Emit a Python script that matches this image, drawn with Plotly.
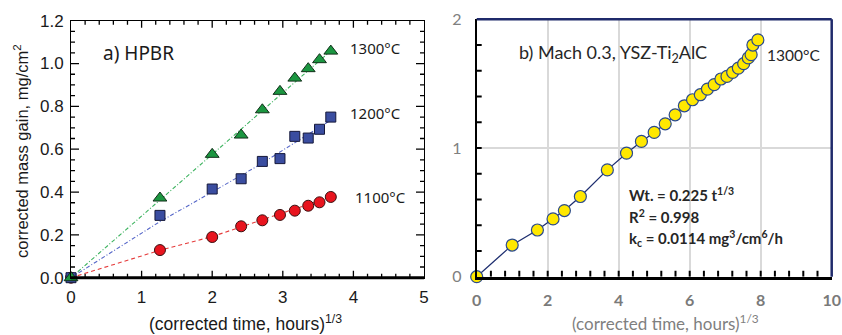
import plotly.graph_objects as go

# ---------------- data: panel a (HPBR) ----------------
a_x = [0, 1.26, 2.00, 2.41, 2.71, 2.96, 3.17, 3.36, 3.52, 3.68]
a_1300 = [0, 0.372, 0.576, 0.666, 0.784, 0.870, 0.932, 0.976, 1.018, 1.058]
a_1200 = [0, 0.291, 0.414, 0.462, 0.543, 0.556, 0.660, 0.652, 0.693, 0.750]
a_1100 = [0, 0.129, 0.190, 0.240, 0.268, 0.293, 0.313, 0.336, 0.352, 0.377]

fit_x_1300 = [0, 3.70]
fit_y_1300 = [0, 1.065]
fit_x_1200 = [0, 1.26, 2.00, 2.71, 3.70]
fit_y_1200 = [0, 0.262, 0.400, 0.535, 0.740]
fit_x_1100 = [0, 1.26, 2.00, 3.70]
fit_y_1100 = [0, 0.128, 0.192, 0.380]

# ---------------- data: panel b (Mach 0.3) ----------------
b_x = [0, 1.00, 1.71, 2.15, 2.47, 2.92, 3.68, 4.22, 4.64, 5.00, 5.31, 5.59,
       5.85, 6.08, 6.30, 6.50, 6.69, 6.88, 7.05, 7.21, 7.37, 7.52, 7.65, 7.73,
       7.78, 7.92]
b_y = [0, 0.246, 0.363, 0.449, 0.514, 0.623, 0.830, 0.960, 1.051, 1.121, 1.188,
       1.258, 1.328, 1.375, 1.414, 1.458, 1.492, 1.536, 1.556, 1.588, 1.621,
       1.655, 1.700, 1.725, 1.800, 1.840]

# tick positions (axis decorations)
a_xtick_major = [1, 2, 3, 4]
a_xtick_step = 0.2
a_ytick_major = [0.2, 0.4, 0.6, 0.8, 1.0]
a_ytick_step = 0.05
b_xtick_step = 0.4
b_ytick_step = 0.2

W, H = 842, 335

def px_x(p):
    return p / W

def px_y(p):
    return (H - p) / H

xa0, xa1 = 71, 424
ya0, ya1 = 277.7, 20.7
xb0, xb1 = 476.7, 831.7
yb0, yb1 = 276.7, 19.3
dom_xa = [px_x(xa0), px_x(xa1)]
dom_ya = [px_y(ya0), px_y(ya1)]
dom_xb = [px_x(xb0), px_x(xb1)]
dom_yb = [px_y(yb0), px_y(yb1)]

# data units per pixel (to size tick marks in pixels)
ua_x = 5 / (xa1 - xa0)
ua_y = 1.2 / (ya0 - ya1)
ub_x = 10 / (xb1 - xb0)
ub_y = 2 / (yb0 - yb1)

fig = go.Figure()

# ---- tick marks as line traces (drawn first, under data) ----
def tick_trace(xs, ys, xaxis, yaxis, width):
    return go.Scatter(x=xs, y=ys, mode="lines", cliponaxis=False,
                      line=dict(color="black", width=width),
                      xaxis=xaxis, yaxis=yaxis, showlegend=False, hoverinfo="skip")

tx, ty = [], []
n_ax = int(round(5 / a_xtick_step))
for i in range(1, n_ax):
    v = round(i * a_xtick_step, 4)
    L = (7 if v in a_xtick_major else 4) * ua_y
    tx += [v, v, None, v, v, None]
    ty += [0, L, None, 1.2, 1.2 - L, None]
n_ay = int(round(1.2 / a_ytick_step))
for i in range(1, n_ay):
    v = round(i * a_ytick_step, 4)
    L = (8 if v in a_ytick_major else 4) * ua_x
    tx += [0, L, None, 5, 5 - L, None]
    ty += [v, v, None, v, v, None]
fig.add_trace(tick_trace(tx, ty, "x", "y", 1.3))

tx2, ty2 = [], []
n_bx = int(round(10 / b_xtick_step))
for i in range(1, n_bx):
    v = round(i * b_xtick_step, 4)
    tx2 += [v, v, None]
    ty2 += [0, 6 * ub_y, None]
n_by = int(round(2 / b_ytick_step))
for i in range(1, n_by):
    v = round(i * b_ytick_step, 4)
    tx2 += [0, 5 * ub_x, None]
    ty2 += [v, v, None]
fig.add_trace(tick_trace(tx2, ty2, "x2", "y2", 2))

# ---- panel a fit lines ----
fig.add_trace(go.Scatter(x=fit_x_1300, y=fit_y_1300, mode="lines",
                         line=dict(color="#3db35f", width=1.1, dash="4px,2px,1px,2px"),
                         xaxis="x", yaxis="y", showlegend=False, hoverinfo="skip"))
fig.add_trace(go.Scatter(x=fit_x_1200, y=fit_y_1200, mode="lines",
                         line=dict(color="#5566c8", width=1.1, dash="4px,2px,1px,2px"),
                         xaxis="x", yaxis="y", showlegend=False, hoverinfo="skip"))
fig.add_trace(go.Scatter(x=fit_x_1100, y=fit_y_1100, mode="lines",
                         line=dict(color="#e53a3a", width=1.1, dash="4px,3px"),
                         xaxis="x", yaxis="y", showlegend=False, hoverinfo="skip"))

# ---- panel a markers ----
fig.add_trace(go.Scatter(x=a_x, y=a_1100, mode="markers", cliponaxis=False,
                         marker=dict(symbol="circle", size=11, color="#e8141e",
                                     line=dict(color="#3a1010", width=1)),
                         xaxis="x", yaxis="y", showlegend=False))
fig.add_trace(go.Scatter(x=a_x, y=a_1200, mode="markers", cliponaxis=False,
                         marker=dict(symbol="square", size=10, color="#3a4da0",
                                     line=dict(color="#15183a", width=1)),
                         xaxis="x", yaxis="y", showlegend=False))
fig.add_trace(go.Scatter(x=a_x, y=a_1300, mode="markers", cliponaxis=False,
                         marker=dict(symbol="triangle-up", size=12, color="#1b9640",
                                     line=dict(color="#12301a", width=1)),
                         xaxis="x", yaxis="y", showlegend=False))

# ---- panel b ----
fig.add_trace(go.Scatter(x=b_x, y=b_y, mode="lines+markers", cliponaxis=False,
                         line=dict(color="#1f2f70", width=1.3),
                         marker=dict(symbol="circle", size=12, color="#ffe800",
                                     line=dict(color="#2b4a8c", width=1.2)),
                         xaxis="x2", yaxis="y2", showlegend=False))

axis_font_a = dict(family="Liberation Sans, Arial", size=17, color="#1a1a1a")

fig.update_layout(
    template="none",
    width=W, height=H, margin=dict(l=0, r=0, t=0, b=0),
    paper_bgcolor="white", plot_bgcolor="rgba(0,0,0,0)",
    xaxis=dict(domain=dom_xa, range=[0, 5], tickmode="linear", tick0=0, dtick=1,
               ticks="", showline=True, linecolor="#000000", linewidth=1, mirror=True,
               showgrid=False, zeroline=False, tickfont=axis_font_a,
               ticklabelstandoff=4, anchor="y"),
    yaxis=dict(domain=dom_ya, range=[0, 1.2], tickmode="linear", tick0=0, dtick=0.2,
               tickformat=".1f", ticks="", showline=True, linecolor="#000000", linewidth=1,
               mirror=True, showgrid=False, zeroline=False, tickfont=axis_font_a,
               ticklabelstandoff=3, anchor="x"),
    xaxis2=dict(domain=dom_xb, range=[0, 10], tickmode="linear", tick0=0, dtick=2,
                ticks="", showline=True, linecolor="#000000", linewidth=3, mirror=False,
                showgrid=True, gridcolor="#d9d9d9", gridwidth=2, zeroline=False,
                tickfont=dict(family="Lato", size=16, color="#7a7a7a", weight="bold"),
                ticklabelstandoff=7, anchor="y2"),
    yaxis2=dict(domain=dom_yb, range=[0, 2], tickmode="linear", tick0=0, dtick=1,
                ticks="", showline=True, linecolor="#000000", linewidth=2, mirror=False,
                showgrid=True, gridcolor="#d9d9d9", gridwidth=2, zeroline=False,
                tickfont=dict(family="Lato", size=16, color="#808080"),
                ticklabelstandoff=10, anchor="x2"),
)

shapes = []
# thick bottom axis line of panel a
shapes.append(dict(type="line", xref="x domain", yref="y domain", x0=0, x1=1, y0=0, y1=0,
                   line=dict(color="black", width=3), layer="above"))
# navy top/right border of panel b
shapes.append(dict(type="line", xref="x2 domain", yref="y2 domain", x0=0, x1=1, y0=1, y1=1,
                   line=dict(color="#1f2a6b", width=2.5), layer="above"))
shapes.append(dict(type="line", xref="x2 domain", yref="y2 domain", x0=1, x1=1, y0=0, y1=1,
                   line=dict(color="#1f2a6b", width=2.5), layer="above"))
fig.update_layout(shapes=shapes)

ann = []
lab_font = dict(family="Noto Sans", size=15, color="#1a1a1a")
ann.append(dict(x=3.93, y=1.073, xref="x", yref="y", text="1300°C", showarrow=False,
                xanchor="left", yanchor="middle", font=lab_font))
ann.append(dict(x=3.93, y=0.77, xref="x", yref="y", text="1200°C", showarrow=False,
                xanchor="left", yanchor="middle", font=lab_font))
ann.append(dict(x=3.99, y=0.376, xref="x", yref="y", text="1100°C", showarrow=False,
                xanchor="left", yanchor="middle", font=lab_font))
ann.append(dict(x=0.43, y=1.05, xref="x", yref="y", text="a) HPBR", showarrow=False,
                xanchor="left", yanchor="middle",
                font=dict(family="Noto Sans", size=19, color="#1a1a1a")))
ann.append(dict(x=px_x(21), y=px_y(151), xref="paper", yref="paper",
                text="corrected mass gain, mg/cm<sup>2</sup>", textangle=-90, showarrow=False,
                xanchor="center", yanchor="middle",
                font=dict(family="Liberation Sans, Arial", size=16.5, color="#1a1a1a")))
ann.append(dict(x=px_x(246), y=px_y(323), xref="paper", yref="paper",
                text="(corrected time, hours)<sup>1/3</sup>", showarrow=False,
                xanchor="center", yanchor="middle",
                font=dict(family="Liberation Sans, Arial", size=17.5, color="#1a1a1a")))
b_font = dict(family="Lato", size=18, color="#262626")
ann.append(dict(x=1.135, y=1.738, xref="x2", yref="y2",
                text="b) Mach 0.3, YSZ-Ti<sub>2</sub>AlC", showarrow=False,
                xanchor="left", yanchor="middle", font=b_font))
ann.append(dict(x=8.12, y=1.72, xref="x2", yref="y2", text="1300°C", showarrow=False,
                xanchor="left", yanchor="middle", font=dict(family="Lato", size=15.5, color="#262626")))
f_font = dict(family="Lato", size=15, color="#262626", weight="bold")
ann.append(dict(x=4.24, y=0.635, xref="x2", yref="y2", text="Wt. = 0.225 t<sup>1/3</sup>",
                showarrow=False, xanchor="left", yanchor="middle", font=f_font))
ann.append(dict(x=4.24, y=0.464, xref="x2", yref="y2", text="R<sup>2</sup> = 0.998",
                showarrow=False, xanchor="left", yanchor="middle", font=f_font))
ann.append(dict(x=4.24, y=0.293, xref="x2", yref="y2",
                text="k<sub>c</sub> = 0.0114 mg<sup>3</sup>/cm<sup>6</sup>/h",
                showarrow=False, xanchor="left", yanchor="middle", font=f_font))
ann.append(dict(x=px_x(665), y=px_y(322), xref="paper", yref="paper",
                text="(corrected time, hours)<sup>1/3</sup>", showarrow=False,
                xanchor="center", yanchor="middle",
                font=dict(family="Lato", size=17, color="#7f7f7f")))
fig.update_layout(annotations=ann)

fig.write_html("out.html")
